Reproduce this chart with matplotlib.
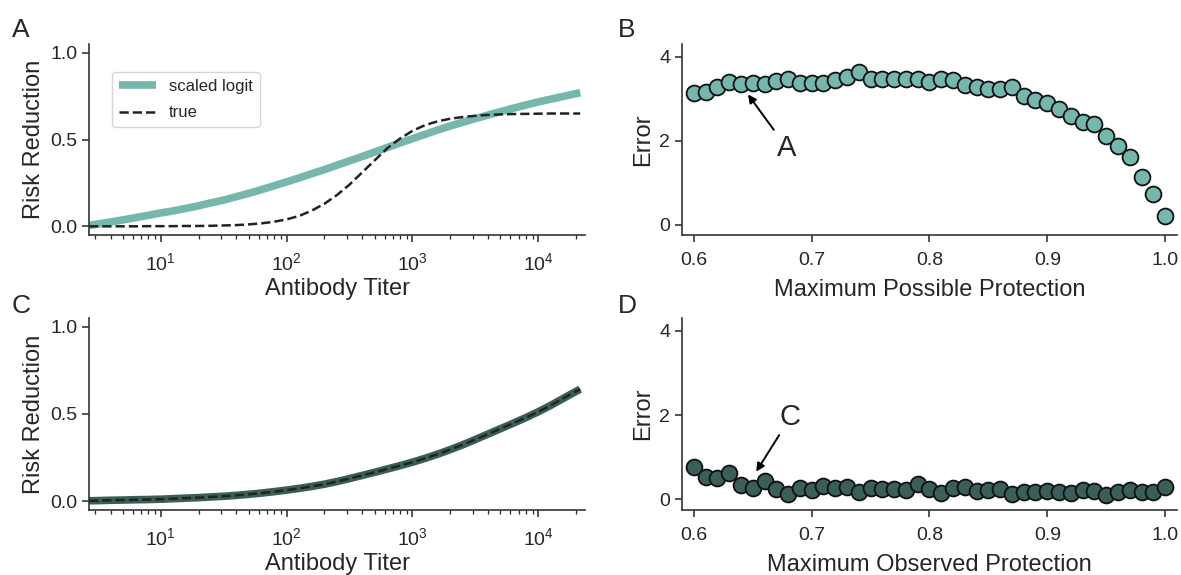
import numpy as np
import matplotlib.pyplot as plt

plt.rcParams['font.family'] = ['Liberation Sans', 'DejaVu Sans']
plt.rcParams['text.color'] = '#262626'
plt.rcParams['axes.labelcolor'] = '#262626'
plt.rcParams['xtick.color'] = '#262626'
plt.rcParams['ytick.color'] = '#262626'
plt.rcParams['axes.edgecolor'] = '#333333'

light_teal = '#76b7ad'
dark_teal = '#3a5f58'

# Risk reduction curves (panels A and C), read at ~0.1 decade steps
titer = [2.7, 3.2, 4.0, 5.0, 6.3, 7.9, 10, 12.6, 15.8, 20, 25, 32, 40, 50, 63, 79,
         100, 126, 158, 200, 251, 316, 398, 501, 631, 794, 1000, 1259, 1585, 1995,
         2512, 3162, 3981, 5012, 6310, 7943, 10000, 12589, 15849, 19953, 21500]
a_scaled_logit = [0.005, 0.014, 0.025, 0.037, 0.05, 0.063, 0.077, 0.089, 0.103, 0.118,
                  0.135, 0.152, 0.171, 0.19, 0.211, 0.233, 0.256, 0.279, 0.303, 0.327,
                  0.352, 0.377, 0.402, 0.428, 0.454, 0.48, 0.505, 0.53, 0.555, 0.578,
                  0.60, 0.621, 0.641, 0.661, 0.68, 0.699, 0.717, 0.733, 0.749, 0.765, 0.77]
a_true = [0.0, 0.0, 0.0, 0.0, 0.0, 0.001, 0.001, 0.001, 0.002, 0.002,
          0.003, 0.005, 0.007, 0.011, 0.017, 0.026, 0.04, 0.06, 0.09, 0.13,
          0.18, 0.24, 0.31, 0.38, 0.45, 0.505, 0.55, 0.583, 0.605, 0.62,
          0.63, 0.637, 0.642, 0.645, 0.647, 0.648, 0.649, 0.65, 0.65, 0.65, 0.65]
c_scaled_logit = [0.003, 0.004, 0.006, 0.007, 0.009, 0.010, 0.012, 0.015, 0.018, 0.021,
                  0.025, 0.029, 0.034, 0.040, 0.047, 0.055, 0.064, 0.074, 0.085, 0.098,
                  0.113, 0.13, 0.148, 0.166, 0.185, 0.204, 0.224, 0.246, 0.27, 0.296,
                  0.324, 0.354, 0.385, 0.416, 0.447, 0.479, 0.513, 0.55, 0.59, 0.63, 0.642]
c_true = c_scaled_logit

# Error vs maximum protection (panels B and D)
max_protection = [0.60, 0.61, 0.62, 0.63, 0.64, 0.65, 0.66, 0.67, 0.68, 0.69, 0.70,
                  0.71, 0.72, 0.73, 0.74, 0.75, 0.76, 0.77, 0.78, 0.79, 0.80,
                  0.81, 0.82, 0.83, 0.84, 0.85, 0.86, 0.87, 0.88, 0.89, 0.90,
                  0.91, 0.92, 0.93, 0.94, 0.95, 0.96, 0.97, 0.98, 0.99, 1.00]
b_error = [3.13, 3.15, 3.28, 3.39, 3.35, 3.37, 3.35, 3.43, 3.46, 3.37, 3.37,
           3.37, 3.44, 3.51, 3.63, 3.48, 3.48, 3.48, 3.48, 3.48, 3.39,
           3.46, 3.44, 3.33, 3.27, 3.24, 3.24, 3.28, 3.07, 2.96, 2.89,
           2.75, 2.59, 2.45, 2.39, 2.11, 1.86, 1.62, 1.13, 0.73, 0.20]
d_error = [0.78, 0.54, 0.50, 0.62, 0.34, 0.28, 0.44, 0.24, 0.14, 0.26, 0.22,
           0.32, 0.28, 0.30, 0.18, 0.26, 0.24, 0.24, 0.22, 0.36, 0.24,
           0.16, 0.28, 0.30, 0.20, 0.22, 0.24, 0.12, 0.18, 0.18, 0.20,
           0.18, 0.16, 0.22, 0.20, 0.10, 0.17, 0.22, 0.18, 0.18, 0.30]

fig = plt.figure(figsize=(11.81, 5.75), dpi=100)
ax_a = fig.add_axes([0.0754, 0.5913, 0.42, 0.332])
ax_b = fig.add_axes([0.5775, 0.5913, 0.419, 0.332])
ax_c = fig.add_axes([0.0754, 0.113, 0.42, 0.334])
ax_d = fig.add_axes([0.5775, 0.113, 0.419, 0.334])

label_fs = 17
tick_fs = 14

for ax in (ax_a, ax_b, ax_c, ax_d):
    ax.spines['top'].set_visible(False)
    ax.spines['right'].set_visible(False)
    ax.spines['left'].set_linewidth(1.2)
    ax.spines['bottom'].set_linewidth(1.2)
    ax.tick_params(labelsize=tick_fs, length=5, width=1.1)
    ax.tick_params(axis='x', pad=7.5)
    ax.tick_params(which='minor', length=3, width=0.9)

# Panel A
ax_a.plot(titer, a_scaled_logit, color=light_teal, lw=5.5, label='scaled logit',
          solid_capstyle='butt')
ax_a.plot(titer, a_true, color='#222222', lw=1.8, ls='--', label='true')
ax_a.legend(loc='upper left', bbox_to_anchor=(0.047, 0.853), borderaxespad=0,
            fontsize=12, frameon=True, handlelength=2.2, labelspacing=0.7)

# Panel C
ax_c.plot(titer, c_scaled_logit, color=dark_teal, lw=5.5, solid_capstyle='butt')
ax_c.plot(titer, c_true, color='#222222', lw=1.8, ls='--')

for ax in (ax_a, ax_c):
    ax.set_xscale('log')
    ax.set_xlim(2.7, 23500)
    ax.set_ylim(-0.05, 1.05)
    ax.set_yticks([0.0, 0.5, 1.0])
    ax.set_yticklabels(['0.0', '0.5', '1.0'])
    ax.set_xlabel('Antibody Titer', fontsize=label_fs, labelpad=3)
    ax.set_ylabel('Risk Reduction', fontsize=label_fs)

# Panel B
ax_b.scatter(max_protection, b_error, s=130, color=light_teal, edgecolor='#111111',
             linewidth=1.3, zorder=3)
ax_b.set_xlabel('Maximum Possible Protection', fontsize=label_fs, labelpad=7)
ax_b.annotate('A', xy=(0.646, 3.10), xytext=(0.679, 1.83), fontsize=21,
              ha='center', va='center',
              arrowprops=dict(arrowstyle='-|>', color='black', lw=1.4,
                              mutation_scale=12, shrinkA=1, shrinkB=0))

# Panel D
ax_d.scatter(max_protection, d_error, s=130, color=dark_teal, edgecolor='#111111',
             linewidth=1.3, zorder=3)
ax_d.set_xlabel('Maximum Observed Protection', fontsize=label_fs, labelpad=7)
ax_d.annotate('C', xy=(0.653, 0.66), xytext=(0.682, 1.95), fontsize=21,
              ha='center', va='center',
              arrowprops=dict(arrowstyle='-|>', color='black', lw=1.4,
                              mutation_scale=12, shrinkA=1, shrinkB=0))

for ax in (ax_b, ax_d):
    ax.set_xlim(0.59, 1.01)
    ax.set_ylim(-0.25, 4.3)
    ax.set_xticks([0.6, 0.7, 0.8, 0.9, 1.0])
    ax.set_xticklabels(['0.6', '0.7', '0.8', '0.9', '1.0'])
    ax.set_yticks([0, 2, 4])
    ax.set_ylabel('Error', fontsize=label_fs)

# Panel letters
fig.text(0.010, 0.935, 'A', fontsize=19)
fig.text(0.523, 0.935, 'B', fontsize=19)
fig.text(0.010, 0.455, 'C', fontsize=19)
fig.text(0.523, 0.455, 'D', fontsize=19)

fig.savefig('out.png', dpi=100)
